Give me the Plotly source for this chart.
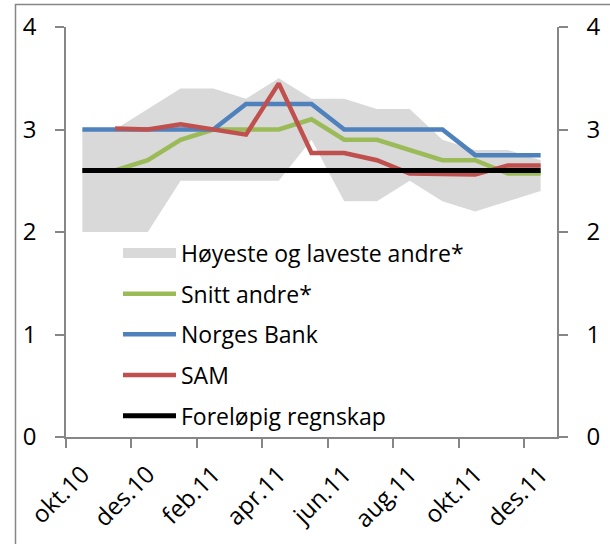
import plotly.graph_objects as go

# ---- data ----
months = ["okt.10", "nov.10", "des.10", "jan.11", "feb.11", "mar.11", "apr.11",
          "mai.11", "jun.11", "jul.11", "aug.11", "sep.11", "okt.11", "nov.11", "des.11"]
hoy_lav_low = [2.0, 2.0, 2.0, 2.5, 2.5, 2.5, 2.5, 2.9, 2.3, 2.3, 2.5, 2.3, 2.2, 2.3, 2.4]
hoy_lav_high = [3.0, 3.0, 3.2, 3.4, 3.4, 3.3, 3.5, 3.3, 3.3, 3.2, 3.2, 2.9, 2.8, 2.8, 2.7]
snitt_andre = [2.6, 2.6, 2.7, 2.9, 3.0, 3.0, 3.0, 3.1, 2.9, 2.9, 2.8, 2.7, 2.7, 2.57, 2.57]
norges_bank = [3.0, 3.0, 3.0, 3.0, 3.0, 3.25, 3.25, 3.25, 3.0, 3.0, 3.0, 3.0, 2.75, 2.75, 2.75]
sam = [None, 3.01, 3.0, 3.05, 3.0, 2.95, 3.45, 2.77, 2.77, 2.7, 2.57, 2.57, 2.56, 2.65, 2.65]
regnskap = [2.6] * 15
ytick_vals = [0, 1, 2, 3, 4]

# ---- layout helpers ----
W, H = 610, 544
L, R, T, B = 66, 53, 27, 107
pw, ph = W - L - R, H - T - B


def px_x(px):
    return (px - L) / pw


def px_y(py):
    return (H - B - py) / ph


FONT = "Open Sans"
GREY = "#868686"
TICK_FS = 24
LEG_FS = 23

fig = go.Figure()
fig.add_trace(go.Scatter(x=months, y=hoy_lav_low, mode="lines",
                         line=dict(width=0, color="rgba(0,0,0,0)"),
                         showlegend=False, hoverinfo="skip"))
fig.add_trace(go.Scatter(x=months, y=hoy_lav_high, mode="lines",
                         line=dict(width=0, color="rgba(0,0,0,0)"),
                         fill="tonexty", fillcolor="#D9D9D9",
                         showlegend=False, hoverinfo="skip"))
# legend entry for the band
fig.add_trace(go.Scatter(x=[months[0]], y=[None], mode="lines",
                         line=dict(width=15, color="#D9D9D9"),
                         name="Høyeste og laveste andre*", legendgroup="a", legendrank=1))
fig.add_trace(go.Scatter(x=months, y=snitt_andre, mode="lines",
                         line=dict(width=4.5, color="#9BBB59"),
                         name="Snitt andre*", legendgroup="b", legendrank=2))
fig.add_trace(go.Scatter(x=months, y=norges_bank, mode="lines",
                         line=dict(width=4.5, color="#4F81BD"),
                         name="Norges Bank", legendgroup="c", legendrank=3))
fig.add_trace(go.Scatter(x=months, y=sam, mode="lines",
                         line=dict(width=4.5, color="#C0504D"),
                         name="SAM", legendgroup="d", legendrank=4))
fig.add_trace(go.Scatter(x=months, y=regnskap, mode="lines", yaxis="y2",
                         line=dict(width=5, color="#000000"),
                         name="Foreløpig regnskap", legendgroup="e", legendrank=5))

axis_common = dict(showgrid=False, zeroline=False, showline=True, linecolor=GREY,
                   linewidth=1.5, ticks="outside", ticklen=9, tickwidth=1.5,
                   tickcolor=GREY, tickfont=dict(family=FONT, size=TICK_FS, color="#000"))

fig.update_layout(
    width=W, height=H,
    margin=dict(l=L, r=R, t=T, b=B, autoexpand=False),
    paper_bgcolor="white", plot_bgcolor="white",
    font=dict(family=FONT, size=LEG_FS, color="#000"),
    xaxis=dict(type="category", categoryorder="array", categoryarray=months,
               range=[-0.5, 14.5], tickson="boundaries", tick0=0, dtick=2,
               tickangle=-45, ticklabelstandoff=12, **axis_common),
    yaxis=dict(range=[0, 4], tickvals=ytick_vals, ticklabelstandoff=14, **axis_common),
    yaxis2=dict(range=[0, 4], tickvals=ytick_vals, overlaying="y", side="right",
                anchor="x", ticklabelstandoff=14, **axis_common),
    legend=dict(x=px_x(118), y=px_y(231.5), xanchor="left", yanchor="top",
                bgcolor="rgba(0,0,0,0)", itemwidth=53, tracegroupgap=7.8,
                font=dict(family=FONT, size=LEG_FS, color="#000"), traceorder="grouped"),
    shapes=[dict(type="rect", xref="paper", yref="paper",
                 x0=px_x(15.5), x1=px_x(720), y0=px_y(650), y1=px_y(4.5),
                 line=dict(color=GREY, width=1.5), fillcolor="rgba(0,0,0,0)",
                 layer="below")],
)

fig.write_html("out.html", config={"displayModeBar": False},
               post_script="document.body.style.margin='0';document.body.style.overflow='hidden';")
